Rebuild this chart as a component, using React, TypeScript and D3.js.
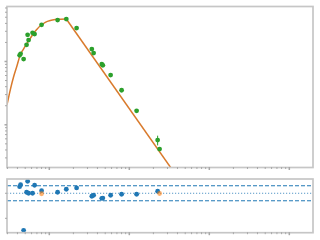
import React from "react";
import * as d3 from "d3";

// observed data (frequency, power, error)
const xData = [0.4256, 0.4377, 0.4775, 0.52, 0.536, 0.551, 0.618, 0.655, 0.801, 1.27, 1.631, 2.194, 3.4, 3.58, 4.53, 4.67, 5.84, 8.01, 12.34, 22.6, 23.9];
const yData = [12.53, 13.23, 10.91, 18.36, 26.4, 21.8, 28.4, 27.1, 38.0, 45.1, 46.8, 33.7, 15.7, 13.58, 9.1, 8.71, 6.1, 3.51, 1.664, 0.573, 0.413];
const yErr = [0.4, 0.4, 0.3, 0.5, 0.7, 0.6, 0.7, 0.7, 0.9, 1.0, 1.0, 0.8, 0.4, 0.35, 0.25, 0.22, 0.15, 0.09, 0.05, 0.1, 0.015];

// model curve samples: rising (curved) branch, then straight power-law branch
const modelRiseX = [0.296, 0.3255, 0.358, 0.3946, 0.434, 0.4775, 0.526, 0.579, 0.637, 0.702, 0.772, 0.891, 1.029, 1.189, 1.373, 1.631];
const modelRiseY = [2.07, 3.57, 5.73, 8.55, 12.76, 15.87, 19.39, 23.25, 27.9, 32.3, 36.6, 41.6, 44.4, 45.9, 46.6, 46.9];
const modelFallX = [1.631, 37.6];
const modelFallY = [46.9, 0.166];

// residuals
const residX = [0.4256, 0.4377, 0.4775, 0.52, 0.536, 0.551, 0.618, 0.655, 0.801, 1.27, 1.631, 2.194, 3.4, 3.58, 4.53, 4.67, 5.84, 8.01, 12.34, 22.6];
const residY = [0.264, 0.344, -1.48, 0.04, 0.48, 0.0, 0.0, 0.32, 0.104, 0.04, 0.16, 0.212, -0.12, -0.08, -0.2, -0.19, -0.08, -0.04, -0.04, 0.08];
const flaggedX = [0.801, 23.9];
const flaggedY = [-0.02, -0.01];

const bandLevels = [0.3, -0.3];
const residTicks = [0, -1];

const W = 320, H = 240;
const L = 7, R = 313;
const mainTop = 6.5, mainBottom = 167.5;
const resTop = 179, resBottom = 232.7;

const spine = "#c6c6c6";
const tickCol = "#a8a8a8";

export default function App() {
  const x = d3.scaleLog().domain([0.296, 1977]).range([L, R]);
  const y = d3.scaleLog().domain([0.2115, 73.9]).range([mainBottom, mainTop]);
  const yr = d3.scaleLinear().domain([-1.575, 0.57]).range([resBottom, resTop]);

  const xMajor = [1, 10, 100, 1000];
  const xMinor: number[] = [];
  for (const dec of [0.1, 1, 10, 100, 1000]) {
    for (let k = 2; k <= 9; k++) {
      const v = dec * k;
      if (v >= 0.296 && v <= 1977) xMinor.push(v);
    }
  }
  const yMajor = [1, 10];
  const yMinor: number[] = [];
  for (const dec of [0.1, 1, 10]) {
    for (let k = 2; k <= 9; k++) {
      const v = dec * k;
      if (v >= 0.2115 && v <= 73.9) yMinor.push(v);
    }
  }

  const rise = d3
    .line<number>()
    .x((_, i) => x(modelRiseX[i]))
    .y((_, i) => y(modelRiseY[i]))
    .curve(d3.curveMonotoneX);
  const fall = d3
    .line<number>()
    .x((_, i) => x(modelFallX[i]))
    .y((_, i) => y(modelFallY[i]));

  const xTicks = (yy: number, key: string) => (
    <g key={key}>
      {xMinor.map((v, i) => (
        <line key={"m" + i} x1={x(v)} x2={x(v)} y1={yy - 0.5} y2={yy + 1.5} stroke={tickCol} strokeWidth={1} />
      ))}
      {xMajor.map((v, i) => (
        <line key={"M" + i} x1={x(v)} x2={x(v)} y1={yy - 0.5} y2={yy + 2.5} stroke={tickCol} strokeWidth={1.5} />
      ))}
    </g>
  );

  return (
    <svg width={W} height={H} style={{ position: "fixed", left: 0, top: 0, background: "#fff" }}>
      <defs>
        <clipPath id="mainclip">
          <rect x={L} y={mainTop} width={R - L} height={mainBottom - mainTop} />
        </clipPath>
        <clipPath id="resclip">
          <rect x={L} y={resTop} width={R - L} height={resBottom - resTop} />
        </clipPath>
      </defs>

      {/* main panel */}
      <g clipPath="url(#mainclip)">
        <path d={rise(modelRiseX) || ""} fill="none" stroke="#d97a2c" strokeWidth={1.5} strokeLinejoin="round" />
        <path d={fall(modelFallX) || ""} fill="none" stroke="#d97a2c" strokeWidth={1.5} />
        {xData.map((v, i) => (
          <line key={"e" + i} x1={x(v)} x2={x(v)} y1={y(yData[i] + yErr[i])} y2={y(Math.max(yData[i] - yErr[i], 0.01))} stroke="#2ca02c" strokeWidth={1} />
        ))}
        {xData.map((v, i) => (
          <circle key={"p" + i} cx={x(v)} cy={y(yData[i])} r={2.4} fill="#2ca02c" />
        ))}
      </g>
      <rect x={L} y={mainTop} width={R - L} height={mainBottom - mainTop} fill="none" stroke={spine} strokeWidth={1.7} />
      {xTicks(mainBottom, "xt1")}
      {yMinor.map((v, i) => (
        <line key={"ym" + i} x1={L - 2} x2={L} y1={y(v)} y2={y(v)} stroke={tickCol} strokeWidth={1} />
      ))}
      {yMajor.map((v, i) => (
        <line key={"yM" + i} x1={L - 2.5} x2={L} y1={y(v)} y2={y(v)} stroke={tickCol} strokeWidth={1.5} />
      ))}

      {/* residual panel */}
      <g clipPath="url(#resclip)">
        {bandLevels.map((v, i) => (
          <line key={"b" + i} x1={L} x2={R} y1={yr(v)} y2={yr(v)} stroke="#1f77b4" strokeWidth={1} strokeDasharray="4,2" />
        ))}
        <line x1={L} x2={R} y1={yr(0)} y2={yr(0)} stroke="#1f77b4" strokeWidth={1} strokeDasharray="1.2,1.8" opacity={0.75} />
        {residX.map((v, i) => (
          <circle key={"r" + i} cx={x(v)} cy={yr(residY[i])} r={2.4} fill="#1f77b4" />
        ))}
        {flaggedX.map((v, i) => (
          <circle key={"f" + i} cx={x(v)} cy={yr(flaggedY[i])} r={2.4} fill="#ff7f0e" opacity={0.6} />
        ))}
      </g>
      <rect x={L} y={resTop} width={R - L} height={resBottom - resTop} fill="none" stroke={spine} strokeWidth={1.7} />
      {xTicks(resBottom, "xt2")}
      {residTicks.map((v, i) => (
        <line key={"rt" + i} x1={L - 2} x2={L} y1={yr(v)} y2={yr(v)} stroke={tickCol} strokeWidth={1} />
      ))}
    </svg>
  );
}
